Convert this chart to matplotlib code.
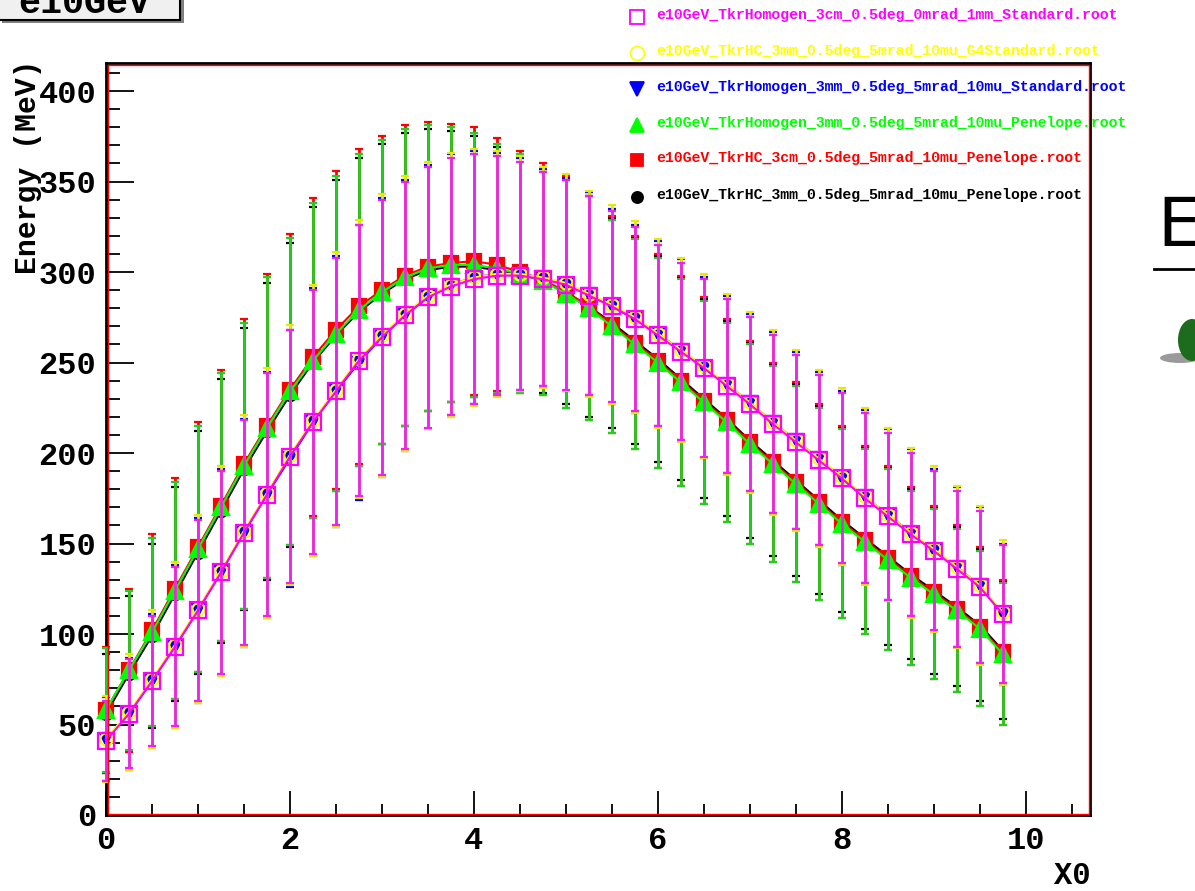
import matplotlib
matplotlib.use('Agg')
import matplotlib.pyplot as plt
from matplotlib.patches import Rectangle, Ellipse
from matplotlib.lines import Line2D
from matplotlib.ticker import MultipleLocator

# x0 positions (bin centres)
x0 = [0, 0.25, 0.5, 0.75, 1, 1.25, 1.5, 1.75, 2, 2.25, 2.5, 2.75, 3, 3.25, 3.5, 3.75, 4, 4.25, 4.5, 4.75,
      5, 5.25, 5.5, 5.75, 6, 6.25, 6.5, 6.75, 7, 7.25, 7.5, 7.75, 8, 8.25, 8.5, 8.75, 9, 9.25, 9.5, 9.75]

# energy (MeV) per file
e_black = [56, 78, 99, 122, 145, 168, 191, 212, 232, 250, 265, 278, 288, 296, 301, 303, 303, 301, 299, 295,
           289, 281, 272, 262, 252, 241, 230, 219, 207, 196, 185, 174, 163, 153, 143, 133, 124, 115, 105, 91]
e_red = [58, 80, 102, 125, 148, 171, 194, 215, 235, 253, 268, 281, 290, 298, 303, 305, 306, 304, 300, 296,
         289, 281, 271, 261, 251, 240, 229, 218, 206, 195, 184, 173, 162, 152, 142, 132, 123, 114, 104, 90]
e_green = [58, 80, 101, 124, 147, 170, 193, 214, 234, 251, 266, 279, 289, 297, 302, 304, 304, 302, 299, 295,
           288, 280, 270, 260, 250, 239, 228, 217, 205, 194, 183, 172, 161, 151, 141, 131, 122, 113, 103, 89]
e_blue = [42, 56, 74, 93, 113, 134, 156, 177, 197, 217, 234, 250, 264, 276, 286, 293, 297, 299, 299, 297,
          293, 288, 281, 274, 266, 257, 247, 238, 228, 217, 207, 197, 186, 176, 166, 156, 146, 137, 127, 111]
e_yellow = [42, 57, 75, 94, 114, 135, 157, 178, 199, 218, 235, 252, 265, 277, 287, 293, 297, 299, 299, 297,
            294, 288, 282, 275, 266, 257, 248, 238, 228, 217, 207, 197, 187, 176, 166, 156, 147, 137, 127, 112]
e_magenta = [41, 56, 74, 93, 113, 134, 156, 177, 198, 217, 234, 251, 264, 276, 286, 292, 296, 298, 298, 296,
             293, 287, 281, 274, 265, 256, 247, 237, 227, 216, 206, 196, 186, 175, 165, 155, 146, 136, 126, 111]

# errors (RMS)
err_black = [33, 43, 51, 59, 67, 73, 78, 82, 84, 86, 86, 85, 83, 81, 78, 75, 72, 68, 65, 62,
             62, 61, 58, 57, 57, 56, 55, 54, 54, 53, 53, 52, 51, 50, 49, 47, 46, 44, 42, 38]
err_red = [35, 45, 53, 61, 69, 75, 80, 84, 86, 88, 88, 87, 85, 83, 80, 77, 74, 70, 67, 64,
           64, 63, 60, 59, 59, 58, 57, 56, 56, 55, 55, 54, 53, 52, 51, 49, 48, 46, 44, 40]
err_green = [34, 44, 52, 60, 68, 74, 79, 83, 85, 87, 87, 86, 84, 82, 79, 76, 73, 69, 66, 63,
             63, 62, 59, 58, 58, 57, 56, 55, 55, 54, 54, 53, 52, 51, 50, 48, 47, 45, 43, 39]
err_blue = [23, 31, 37, 45, 51, 57, 63, 68, 71, 74, 75, 76, 77, 75, 73, 72, 70, 67, 64, 60,
            59, 56, 54, 52, 51, 50, 50, 49, 49, 50, 49, 48, 48, 48, 47, 46, 45, 44, 43, 39]
err_yellow = [24, 32, 38, 46, 52, 58, 64, 69, 72, 75, 76, 77, 78, 76, 74, 73, 71, 68, 65, 61,
              60, 57, 55, 53, 52, 51, 51, 50, 50, 51, 50, 49, 49, 49, 48, 47, 46, 45, 44, 40]
err_magenta = [22, 30, 36, 44, 50, 56, 62, 67, 70, 73, 74, 75, 76, 74, 72, 71, 69, 66, 63, 59,
               58, 55, 53, 51, 50, 49, 49, 48, 48, 49, 48, 47, 47, 47, 46, 45, 44, 43, 42, 38]

files = ['e10GeV_TkrHomogen_3cm_0.5deg_0mrad_1mm_Standard.root',
         'e10GeV_TkrHC_3mm_0.5deg_5mrad_10mu_G4Standard.root',
         'e10GeV_TkrHomogen_3mm_0.5deg_5mrad_10mu_Standard.root',
         'e10GeV_TkrHomogen_3mm_0.5deg_5mrad_10mu_Penelope.root',
         'e10GeV_TkrHC_3cm_0.5deg_5mrad_10mu_Penelope.root',
         'e10GeV_TkrHC_3mm_0.5deg_5mrad_10mu_Penelope.root']

mono = 'Liberation Mono'

fig = plt.figure(figsize=(11.95, 8.91), dpi=100)
ax = fig.add_axes([106 / 1195, 76 / 891, 984 / 1195, 752 / 891])

# drawing order: black, red, green, blue, yellow, magenta (magenta ends on top)
series = [
    (e_black, err_black, 'black', 'black', 'o', 8, 'black'),
    (e_red, err_red, '#ff0000', '#ff0000', 's', 10.5, '#ff0000'),
    (e_green, err_green, '#00ff00', '#20d020', '^', 11, '#00ff00'),
    (e_blue, err_blue, '#0000ff', '#0000ff', 'v', 9, '#0000ff'),
    (e_yellow, err_yellow, '#ffff00', '#e8e800', 'o', 9, 'none'),
    (e_magenta, err_magenta, '#ff00ff', '#ee22ee', 's', 12, 'none'),
]
for i, (y, err, col, ecol, mk, ms, mfc) in enumerate(series):
    cont = ax.errorbar(x0, y, yerr=err, color=col, ecolor=ecol, elinewidth=2, capsize=3, capthick=2,
                       marker=mk, markersize=ms, markerfacecolor=mfc, markeredgecolor=col,
                       markeredgewidth=1.6, linewidth=1.5, zorder=3 + i)
    for art in cont.get_children():
        art.set_clip_on(False)

ax.set_xlim(0, 10.7)
ax.set_ylim(0, 415.5)
ax.xaxis.set_major_locator(MultipleLocator(2))
ax.xaxis.set_minor_locator(MultipleLocator(0.5))
ax.yaxis.set_major_locator(MultipleLocator(50))
ax.yaxis.set_minor_locator(MultipleLocator(10))
ax.tick_params(axis='y', which='major', direction='in', length=20, width=1.3, pad=7)
ax.tick_params(axis='y', which='minor', direction='in', length=10, width=1.3)
ax.tick_params(axis='x', which='major', direction='in', length=17, width=1.3, pad=8)
ax.tick_params(axis='x', which='minor', direction='in', length=8, width=1.3)
for lab in ax.get_xticklabels() + ax.get_yticklabels():
    lab.set_fontfamily(mono)
    lab.set_fontweight('bold')
    lab.set_fontsize(23)

for s in ax.spines.values():
    s.set_color('black')
    s.set_linewidth(2)
ax.add_patch(Rectangle((1.5 / 984, 1.5 / 752), 1 - 3 / 984, 1 - 3 / 752, transform=ax.transAxes,
                       fill=False, edgecolor='#ff0000', linewidth=1, clip_on=False, zorder=20))

# axis titles
fig.text(28 / 1195, 1 - 167 / 891, 'Energy (MeV)', rotation=90, ha='center', va='center',
         family=mono, weight='bold', fontsize=21.5)
fig.text(1090 / 1195, 1 - 876 / 891, 'X0', ha='right', va='center',
         family=mono, weight='bold', fontsize=22)

# title box (cut at the top of the canvas)
fig.patches.append(Rectangle((2 / 1195, 1 - 23 / 891), 182 / 1195, 40 / 891, transform=fig.transFigure,
                             facecolor='#808080', edgecolor='none', zorder=1))
fig.patches.append(Rectangle((-2 / 1195, 1 - 20 / 891), 182 / 1195, 40 / 891, transform=fig.transFigure,
                             facecolor='#f0f0f0', edgecolor='black', linewidth=1.5, zorder=2))
fig.text(18 / 1195, 1 - 13 / 891, 'e10GeV', ha='left', va='baseline', family=mono,
         weight='bold', fontsize=26.5, zorder=3)

# legend
leg_y = [15, 51, 87, 123, 158, 195]
leg_style = [('#ff00ff', 's', 'none', 10), ('#ffff00', 'o', 'none', 10), ('#0000ff', 'v', '#0000ff', 10),
             ('#00ff00', '^', '#00ff00', 10), ('#ff0000', 's', '#ff0000', 9), ('black', 'o', 'black', 8)]
for name, yy, (col, mk, mfc, ms) in zip(files, leg_y, leg_style):
    fig.add_artist(Line2D([637 / 1195], [1 - (yy + 2) / 891], transform=fig.transFigure, marker=mk,
                          markersize=ms, color=col, markerfacecolor=mfc, markeredgewidth=1.3,
                          linestyle='none'))
    fig.text(656 / 1195, 1 - yy / 891, name, ha='left', va='center', color=col, family=mono,
             weight='bold', fontsize=10.7)

# piece of a neighbouring panel on the right
fig.text(1157 / 1195, 1 - 246 / 891, 'E', ha='left', va='baseline', fontsize=49, family='DejaVu Sans')
fig.add_artist(Line2D([1154 / 1195, 1.0], [1 - 269 / 891, 1 - 269 / 891], transform=fig.transFigure,
                      color='black', linewidth=2))
fig.patches.append(Ellipse((1180 / 1195, 1 - 358 / 891), 40 / 1195, 10 / 891, transform=fig.transFigure,
                           facecolor='#707070', edgecolor='none', alpha=0.7))
fig.patches.append(Ellipse((1192 / 1195, 1 - 340 / 891), 28 / 1195, 42 / 891, transform=fig.transFigure,
                           facecolor='#1d6b1d', edgecolor='none'))

fig.savefig('out.png', dpi=100, facecolor='white')
